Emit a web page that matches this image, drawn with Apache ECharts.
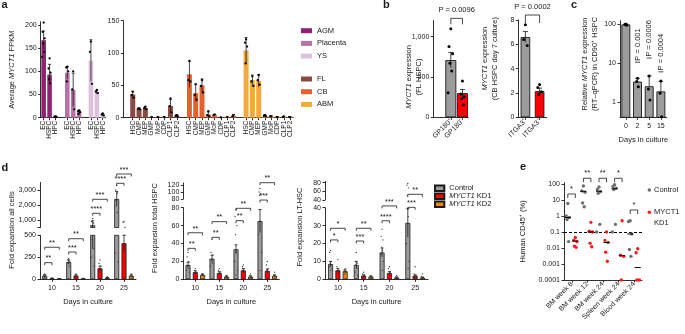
<!DOCTYPE html>
<html>
<head>
<meta charset="utf-8">
<title>MYCT1 figure</title>
<script src="https://cdn.jsdelivr.net/npm/echarts@6/dist/echarts.min.js"></script>
<style>
  html, body { margin: 0; padding: 0; background: #fff; }
  #fig { width: 685px; height: 334px; }
</style>
</head>
<body>
<div id="fig"></div>
<script>
const fig = echarts.init(document.getElementById('fig'));

const FONT = "'Liberation Sans', Arial, Helvetica, sans-serif";
const INK = '#1a1a1a';
const FS = 7;     // tick labels
const FT = 7.5;   // axis titles
const RICH = { i: { fontStyle: 'italic' } };

// ---------------- panel a : FPKM per site ----------------
const aLeftSites = ['AGM', 'Placenta', 'YS'];
const aLeftCells = ['EC', 'HSPC', 'HPC'];
const agmFpkm = [167, 93, 2];
const agmErr = [20, 22, 1];
const agmDots = [[205, 185, 171, 160, 142, 131], [128, 106, 97, 83, 74], [3, 2, 1.5]];
const placentaFpkm = [97, 60, 13];
const placentaErr = [13, 36, 3];
const placentaDots = [[110, 108, 100, 78], [100, 61, 18], [16, 14, 12, 8]];
const ysFpkm = [123, 55, 6];
const ysErr = [45, 4, 2];
const ysDots = [[164, 142, 73], [60, 56, 53], [9, 7, 5]];

const aRightSites = ['FL', 'CB', 'ABM'];
const aRightCells = ['HSC', 'CMP', 'MEP', 'GMP', 'MoP', 'CDP', 'CLP1', 'CLP2'];
const flFpkm = [36, 14, 15, 1, 1, 1, 18, 3];
const flErr = [5, 1.5, 2, 0.5, 0.5, 0.5, 10, 1.5];
const flDots = [[40, 35, 31], [14, 13.5, 13], [17, 15, 13], [1], [1], [1], [30, 18, 8], [4, 3, 2]];
const cbFpkm = [67, 38, 50, 5, 4, 0.5, 1, 3];
const cbErr = [20, 13, 10, 4, 1, 0.3, 0.5, 2];
const cbDots = [[88, 58, 56], [52, 35, 28], [58, 49, 39], [10, 4, 2], [5, 4], [0.5], [1], [4, 2]];
const abmFpkm = [104, 58, 57, 3, 2, 1, 1.5, 1];
const abmErr = [20, 8, 9, 1.5, 1, 0.5, 0.5, 0.5];
const abmDots = [[121, 116, 110, 84], [64, 56, 49], [66, 58, 51], [4, 3, 2], [2, 2], [1, 1], [2, 1], [1, 1]];

// ---------------- panel b ----------------
const gpLabels = ['GP180\u207A', 'GP180\u207B'];
const gpMean = [710, 300];
const gpErr = [95, 45];
const gpPosDots = [1100, 880, 790, 670, 575, 305];
const gpNegDots = [450, 290, 255, 230, 155];
const itgLabels = ['ITGA3\u207A', 'ITGA3\u207B'];
const itgMean = [6.6, 2.15];
const itgErr = [0.45, 0.25];
const itgPosDots = [7.6, 6.4, 5.9];
const itgNegDots = [2.7, 2.45, 2.1, 1.9];

// ---------------- panel c ----------------
const cDays = ['0', '2', '5', '15'];
const cMean = [95, 3.3, 2.5, 1.85];
const cErrHi = [100, 4.1, 4.7, 3.4];
const cDots = [[100, 97, 93], [4.1, 3.4, 2.5], [4.7, 2.2, 1.15], [3.5, 1.7, 0.43]];
const cPValues = ['0.001', '0.0006', '0.0004'];

// ---------------- panel d ----------------
const dDays = ['10', '15', '20', '25'];
const dGroups = ['Control', 'MYCT1 KD1', 'MYCT1 KD2'];
const allCtrl = [40, 195, 650, 2400];
const allKd1 = [10, 40, 125, 410];
const allKd2 = [5, 8, 15, 40];
const allCtrlErr = [12, 25, 300, 500];
const allKd1Err = [3, 10, 25, 90];
const allKd2Err = [2, 2, 5, 12];
const allCtrlDots = [[60, 45, 38, 30, 25], [235, 220, 200, 180, 150], [1100, 900, 800, 450, 350, 250, 150], [3300, 3000, 2800, 2300, 1500, 300, 200]];
const allKd1Dots = [[15, 10, 8], [60, 50, 40, 30], [220, 180, 150, 120, 100, 80], [900, 850, 500, 400, 300, 250, 200]];
const allKd2Dots = [[6, 5, 4], [10, 8, 6], [30, 20, 10], [60, 40, 30]];

const hspcCtrl = [16, 23, 33.5, 65];
const hspcKd1 = [8, 7, 10, 9.5];
const hspcKd2 = [5, 3, 3, 4];
const hspcCtrlErr = [3, 4, 5, 13];
const hspcKd1Err = [1.5, 1.5, 2, 2];
const hspcKd2Err = [1, 0.8, 0.8, 1];
const hspcCtrlDots = [[30, 25, 20, 15, 12, 10, 8], [45, 30, 27, 22, 18, 15], [78, 70, 60, 50, 30, 20, 10, 5], [110, 100, 95, 90, 65, 50, 30, 10]];
const hspcKd1Dots = [[12, 10, 8, 6, 5], [12, 10, 8, 6, 4], [16, 14, 12, 10, 8, 5], [20, 16, 12, 10, 8, 5]];
const hspcKd2Dots = [[6, 5, 4], [4, 3, 2], [6, 4, 2], [8, 5, 3]];

const ltCtrl = [8.5, 8, 15, 31.5];
const ltKd1 = [5, 2, 3.5, 2];
const ltKd2 = [4.5, 1.5, 1, 1];
const ltCtrlErr = [1.5, 2, 2.5, 8];
const ltKd1Err = [1, 0.5, 0.8, 0.5];
const ltKd2Err = [0.8, 0.3, 0.3, 0.3];
const ltCtrlDots = [[16, 15, 10, 9, 8, 7, 6, 5], [15, 10, 9, 8, 6, 4, 2], [28, 24, 22, 18, 16, 14, 10, 5], [78, 74, 68, 50, 35, 20, 10, 6]];
const ltKd1Dots = [[11, 7, 5, 4, 3], [4, 3, 2, 1], [7, 6, 4, 3, 2], [7, 3, 2, 1]];
const ltKd2Dots = [[6, 5, 4, 3], [2, 1.5, 1], [2, 1, 0.5], [3, 1.5, 1]];

// ---------------- panel e ----------------
const eSites = ['BM week 8', 'BM week 12', 'BM week 24', 'Spleen week 24', 'Blood week 24'];
const eCtrl = [[6, 1, 0.8, 0.6, 0.025], [75, 37, 30, 6.5, 3.8], [65, 45, 33, 26, 0.3, 0.1], [90, 70, 55, 45, 0.3, 0.1], [0.5, 0.45, 0.075, 0.008, 0.003]];
const eKd1 = [[0.045, 0.03, 0.025, 0.013, 0.011], [0.4, 0.11, 0.1, 0.02, 0.012], [0.1, 0.03, 0.022, 0.0055, 0.0015], [0.5, 0.0035, 0.003, 0.0001], [0.009, 0.005, 0.0001, 0.0001]];
const eCtrlMedian = [0.8, 35, 35, 50, 0.075];
const eKd1Median = [0.027, 0.1, 0.022, 0.0033, 0.0006];

// ---------------- styles ----------------
const siteColor = { AGM: '#8E2371', Placenta: '#B673A7', YS: '#DCC1DC', FL: '#8A4A41', CB: '#E5612F', ABM: '#F4A83D' };
const GREY = '#9C9C9C', RED = '#FF0000', ORANGE = '#E8871E';
const dColors = [GREY, RED, ORANGE];
const STEP = 7.3, BW = 5;                       // bar pitch inside a day group
const dOffsets = [-STEP, 0, STEP];
const JIT = [0, -1, 1, -0.5, 0.5, -1.5, 1.5, 0.25, -0.25];

function merge(a, b) {
  const out = Object.assign({}, a);
  Object.keys(b).forEach(k => {
    const v = b[k];
    if (v && typeof v === 'object' && !Array.isArray(v) && out[k] && typeof out[k] === 'object' && !Array.isArray(out[k])) out[k] = merge(out[k], v);
    else out[k] = v;
  });
  return out;
}

const axisLine = { show: true, onZero: false, lineStyle: { color: INK, width: 0.9 } };
const tick = { show: true, length: 2.5, lineStyle: { color: INK, width: 0.9 } };
const label = { fontSize: FS, color: INK, fontFamily: FONT, margin: 4 };
const nameStyle = { fontSize: FT, color: INK, fontFamily: FONT, lineHeight: 9.5, rich: RICH };
const comma = v => Number(v).toLocaleString('en-US');
const logFmt = v => String(Number(Number(v).toPrecision(3)));

function yValue(grid, min, max, labels, ticks, extra) {
  return merge({
    type: 'value', gridIndex: grid, min: min, max: max,
    axisLine: axisLine, splitLine: { show: false },
    axisTick: merge(tick, { customValues: ticks || labels }),
    axisLabel: merge(label, { customValues: labels, formatter: comma }),
    nameLocation: 'middle', nameRotate: 90, nameMoveOverlap: false, nameTextStyle: nameStyle
  }, extra || {});
}
function yLog(grid, min, max, extra) {
  return merge({
    type: 'log', logBase: 10, gridIndex: grid, min: min, max: max,
    axisLine: axisLine, splitLine: { show: false }, minorTick: { show: false },
    axisTick: tick,
    axisLabel: merge(label, { formatter: logFmt }),
    nameLocation: 'middle', nameRotate: 90, nameMoveOverlap: false, nameTextStyle: nameStyle
  }, extra || {});
}
function xCat(grid, data, extra) {
  return merge({
    type: 'category', gridIndex: grid, data: data,
    axisLine: axisLine, splitLine: { show: false },
    axisTick: merge(tick, { alignWithLabel: true, interval: (i, v) => v !== '' }),
    axisLabel: merge(label, { interval: 0 }),
    nameLocation: 'middle', nameMoveOverlap: false, nameTextStyle: nameStyle
  }, extra || {});
}
function xHidden(grid, data) {
  return { type: 'category', gridIndex: grid, data: data, show: false };
}

// ---------------- custom drawing helpers ----------------
function errSeries(grid, items, offset, cap) {
  return {
    type: 'custom', xAxisIndex: grid, yAxisIndex: grid, silent: true, z: 4, data: items,
    renderItem: function (params, api) {
      const cs = params.coordSys;
      const lo = api.coord([api.value(0), api.value(1)]);
      const hi = api.coord([api.value(0), api.value(2)]);
      const top = cs.y, bot = cs.y + cs.height;
      const y1 = Math.min(Math.max(lo[1], top), bot);
      const y2 = Math.min(Math.max(hi[1], top), bot);
      if (Math.abs(y1 - y2) < 0.2) return null;
      const x = lo[0] + offset;
      const st = { stroke: INK, lineWidth: 0.8 };
      const kids = [{ type: 'line', shape: { x1: x, y1: y1, x2: x, y2: y2 }, style: st }];
      if (hi[1] >= top - 0.1 && hi[1] <= bot) kids.push({ type: 'line', shape: { x1: x - cap, y1: hi[1], x2: x + cap, y2: hi[1] }, style: st });
      return { type: 'group', children: kids };
    }
  };
}
function dotSeries(grid, items, offset, color, r, spread, name) {
  return {
    name: name, type: 'custom', xAxisIndex: grid, yAxisIndex: grid, silent: true, z: 5, data: items,
    itemStyle: { color: color },
    renderItem: function (params, api) {
      const cs = params.coordSys;
      const p = api.coord([api.value(0), api.value(1)]);
      if (p[1] < cs.y - 0.6 || p[1] > cs.y + cs.height + 0.6) return null;
      const dx = JIT[api.value(2) % JIT.length] * spread;
      return { type: 'circle', shape: { cx: p[0] + offset + dx, cy: p[1], r: r }, style: { fill: color } };
    }
  };
}
// items: [cat1, off1, cat2, off2, level, text]
function bracketSeries(grid, items, leg, gap, fs) {
  return {
    type: 'custom', xAxisIndex: grid, yAxisIndex: grid, silent: true, z: 6,
    data: items.map(b => [b[0], b[4]]),
    renderItem: function (params, api) {
      const b = items[params.dataIndex];
      const p1 = api.coord([b[0], b[4]]), p2 = api.coord([b[2], b[4]]);
      const x1 = p1[0] + b[1], x2 = p2[0] + b[3], y = p1[1];
      return {
        type: 'group', children: [
          { type: 'polyline', shape: { points: [[x1, y + leg], [x1, y], [x2, y], [x2, y + leg]] }, style: { stroke: INK, lineWidth: 0.8, fill: null } },
          { type: 'text', x: (x1 + x2) / 2, y: y - gap, style: { text: b[5], fontSize: fs, fontFamily: FONT, fill: INK, align: 'center', verticalAlign: 'bottom', rich: RICH } }
        ]
      };
    }
  };
}

const series = [];

// ---------------- panel a ----------------
function addSite(grid, site, nCat, mean, err, dots, slot, barW, stack) {
  const bars = new Array(nCat).fill('-');
  mean.forEach((m, c) => { bars[slot(c)] = m; });
  series.push({ name: site, type: 'bar', xAxisIndex: grid, yAxisIndex: grid, stack: stack, barWidth: barW, itemStyle: { color: siteColor[site] }, data: bars });
  series.push(errSeries(grid, mean.map((m, c) => [slot(c), m - err[c], m + err[c]]), 0, 1.5));
  const pts = [];
  dots.forEach((arr, c) => arr.forEach((v, k) => pts.push([slot(c), v, k])));
  series.push(dotSeries(grid, pts, 0, '#000', 1.15, 1));
}
const aLeftCats = [];
aLeftSites.forEach((s, si) => { if (si) aLeftCats.push(''); aLeftCells.forEach(c => aLeftCats.push(c)); });
const aLeftData = [[agmFpkm, agmErr, agmDots], [placentaFpkm, placentaErr, placentaDots], [ysFpkm, ysErr, ysDots]];
aLeftSites.forEach((site, si) => {
  const d = aLeftData[si];
  addSite(0, site, aLeftCats.length, d[0], d[1], d[2], c => si * (aLeftCells.length + 1) + c, 4.6, 'aL');
});
const aRightCats = [''];
aRightSites.forEach((s, si) => { if (si) aRightCats.push(''); aRightCells.forEach(c => aRightCats.push(c)); });
const aRightData = [[flFpkm, flErr, flDots], [cbFpkm, cbErr, cbDots], [abmFpkm, abmErr, abmDots]];
aRightSites.forEach((site, si) => {
  const d = aRightData[si];
  addSite(1, site, aRightCats.length, d[0], d[1], d[2], c => 1 + si * (aRightCells.length + 1) + c, 5, 'aR');
});

// ---------------- panel b ----------------
function addPair(grid, first, mean, err, posDots, negDots, barW, pText) {
  const data = [];
  for (let i = 0; i < first; i++) data.push('-');
  data.push({ value: mean[0], itemStyle: { color: GREY } }, { value: mean[1], itemStyle: { color: RED } });
  series.push({ type: 'bar', xAxisIndex: grid, yAxisIndex: grid, barWidth: barW, itemStyle: { borderColor: INK, borderWidth: 0.9 }, data: data });
  series.push(errSeries(grid, mean.map((m, i) => [first + i, m - err[i], m + err[i]]), 0, 2.5));
  series.push(dotSeries(grid, posDots.map((v, k) => [first, v, k]).concat(negDots.map((v, k) => [first + 1, v, k])), 0, '#000', 1.5, 1.8));
  series.push(bracketSeries(grid, [[first, 0, first + 1, 0, pText.level, '{i|P} = ' + pText.value]], pText.leg, 4, FT));
}
addPair(2, 1, gpMean, gpErr, gpPosDots, gpNegDots, 11, { value: '0.0096', level: 1228, leg: 6 });
addPair(3, 0, itgMean, itgErr, itgPosDots, itgNegDots, 9.6, { value: '0.0002', level: 8.41, leg: 8 });

// ---------------- panel c ----------------
series.push({
  type: 'custom', xAxisIndex: 4, yAxisIndex: 4, silent: true, z: 3,
  data: cMean.map((m, i) => [i, m]),
  renderItem: function (params, api) {
    const cs = params.coordSys;
    const p = api.coord([api.value(0), api.value(1)]);
    const w = 8;
    return { type: 'rect', shape: { x: p[0] - w / 2, y: p[1], width: w, height: cs.y + cs.height - p[1] }, style: { fill: GREY, stroke: INK, lineWidth: 0.9 } };
  }
});
series.push(errSeries(4, cMean.map((m, i) => [i, m, cErrHi[i]]), 0, 2.2));
series.push(dotSeries(4, [].concat.apply([], cDots.map((arr, i) => arr.map((v, k) => [i, v, k]))), 0, '#000', 1.5, 0.8));
const cPLevels = [10.6, 13.5, 6];
series.push({
  type: 'custom', xAxisIndex: 4, yAxisIndex: 4, silent: true, z: 6,
  data: cPValues.map((p, i) => [i + 1, cPLevels[i]]),
  renderItem: function (params, api) {
    const p = api.coord([api.value(0), api.value(1)]);
    return {
      type: 'group', children: [
        { type: 'line', shape: { x1: p[0] - 2.5, y1: p[1], x2: p[0] + 2.5, y2: p[1] }, style: { stroke: INK, lineWidth: 0.8 } },
        { type: 'text', x: p[0], y: p[1] - 1.5, rotation: Math.PI / 2, style: { text: '{i|P} = ' + cPValues[params.dataIndex], align: 'left', verticalAlign: 'middle', fontSize: FT, fontFamily: FONT, fill: INK, rich: RICH } }
      ]
    };
  }
});

// ---------------- panel d ----------------
const dPanels = [
  { lo: 5, hi: 6, means: [allCtrl, allKd1, allKd2], errs: [allCtrlErr, allKd1Err, allKd2Err], dots: [allCtrlDots, allKd1Dots, allKd2Dots] },
  { lo: 7, hi: 8, means: [hspcCtrl, hspcKd1, hspcKd2], errs: [hspcCtrlErr, hspcKd1Err, hspcKd2Err], dots: [hspcCtrlDots, hspcKd1Dots, hspcKd2Dots] },
  { lo: 9, hi: 10, means: [ltCtrl, ltKd1, ltKd2], errs: [ltCtrlErr, ltKd1Err, ltKd2Err], dots: [ltCtrlDots, ltKd1Dots, ltKd2Dots] }
];
// significance vs control: [day, group, level, stars, part]
const dBrackets = [
  [[0, 1, 189, '**', 'lo'], [0, 2, 364, '**', 'lo'], [1, 1, 310, '***', 'lo'], [1, 2, 461, '**', 'lo'],
   [2, 1, 1447, '****', 'hi'], [2, 2, 2380, '***', 'hi'], [3, 1, 3447, '****', 'hi'], [3, 2, 4067, '***', 'hi']],
  [[0, 1, 34.6, '**', 'lo'], [0, 2, 52, '**', 'lo'], [1, 1, 46.9, '**', 'lo'], [1, 2, 64.4, '**', 'lo'],
   [2, 1, 65.5, '**', 'lo'], [2, 2, 79.3, '**', 'lo'], [3, 1, 77, '***', 'hi'], [3, 2, 126.6, '**', 'hi']],
  [[0, 1, 22, '*', 'lo'], [0, 2, 28.5, '*', 'lo'], [1, 1, 21.4, '***', 'lo'], [1, 2, 28.5, '**', 'lo'],
   [2, 1, 32.7, '****', 'lo'], [2, 2, 41, '***', 'lo'], [3, 1, 40.2, '***', 'lo'], [3, 2, 53.1, '**', 'hi']]
];
dPanels.forEach((p, pi) => {
  [p.lo, p.hi].forEach(grid => {
    dGroups.forEach((g, gi) => {
      series.push({
        name: g, type: 'bar', xAxisIndex: grid, yAxisIndex: grid, barWidth: BW, barGap: ((STEP - BW) / BW * 100) + '%',
        itemStyle: { color: dColors[gi], borderColor: INK, borderWidth: 0.8 }, data: p.means[gi]
      });
      series.push(errSeries(grid, p.means[gi].map((m, i) => [i, m - p.errs[gi][i], m + p.errs[gi][i]]), dOffsets[gi], 1.5));
      const pts = [];
      p.dots[gi].forEach((arr, i) => arr.forEach((v, k) => pts.push([i, v, k])));
      series.push(dotSeries(grid, pts, dOffsets[gi], '#333', 0.65, 0.9));
    });
  });
  ['lo', 'hi'].forEach(part => {
    const items = dBrackets[pi].filter(b => b[4] === part).map(b => [b[0], dOffsets[0], b[0], dOffsets[b[1]], b[2], b[3]]);
    if (items.length) series.push(bracketSeries(part === 'lo' ? p.lo : p.hi, items, 2.5, 0.3, FT));
  });
});

// ---------------- panel e ----------------
const eOff = [-4, 3.5];
[[eCtrl, '#6E6E6E', 'eCtrl'], [eKd1, '#FF1A1A', 'eKd1']].forEach((s, si) => {
  const pts = [];
  s[0].forEach((arr, i) => arr.forEach((v, k) => pts.push([i, v, k])));
  series.push(dotSeries(11, pts, eOff[si], s[1], 1.7, 1.6, s[2]));
});
[eCtrlMedian, eKd1Median].forEach((med, si) => {
  series.push({
    type: 'custom', xAxisIndex: 11, yAxisIndex: 11, silent: true, z: 6,
    data: med.map((m, i) => [i, m]),
    renderItem: function (params, api) {
      const p = api.coord([api.value(0), api.value(1)]);
      const x = p[0] + eOff[si];
      return { type: 'line', shape: { x1: x - 3, y1: p[1], x2: x + 3, y2: p[1] }, style: { stroke: '#000', lineWidth: 1 } };
    },
    markLine: si ? undefined : {
      silent: true, symbol: 'none', label: { show: false },
      lineStyle: { color: '#000', width: 1, type: [3, 2] }, data: [{ yAxis: 0.1 }]
    }
  });
});
const eBrackets = [[0, 23.7, '*'], [1, 227, '**'], [2, 227, '**'], [3, 227, '*'], [4, 2.37, '*']];
series.push(bracketSeries(11, eBrackets.map(b => [b[0], eOff[0], b[0], eOff[1], b[1], b[2]]), 4, 1, FT));

// ---------------- layout ----------------
const grids = [
  { left: 40.7, top: 21.7, width: 65, height: 96 },      // a sites
  { left: 123.3, top: 20.7, width: 170, height: 97 },    // a populations
  { left: 433.3, top: 20.6, width: 35, height: 96.7 },   // b GP180
  { left: 518.3, top: 20, width: 28.4, height: 97.3 },   // b ITGA3
  { left: 620, top: 20.7, width: 46.7, height: 96.6 },   // c
  { left: 40, top: 235.3, width: 96, height: 44 },       // d all cells (low)
  { left: 40, top: 182.5, width: 96, height: 45 },       // d all cells (high)
  { left: 183.3, top: 207.7, width: 96, height: 71.6 },  // d HSPC (low)
  { left: 183.3, top: 182.9, width: 96, height: 16.1 },  // d HSPC (high)
  { left: 325, top: 207.7, width: 103, height: 71.6 },   // d LT-HSC (low)
  { left: 325, top: 181.3, width: 103, height: 18.7 },   // d LT-HSC (high)
  { left: 564, top: 182.7, width: 78, height: 97.3 }     // e
];

const rot90 = { axisLabel: { rotate: 90, margin: 3, fontSize: 6.5 } };
const rot45 = { axisLabel: { rotate: 45, margin: 3 } };
const days = { name: 'Days in culture', nameGap: 18, axisLabel: { margin: 5 } };

const xAxis = [
  xCat(0, aLeftCats, rot90),
  xCat(1, aRightCats, rot90),
  xCat(2, [''].concat(gpLabels), rot45),
  xCat(3, itgLabels, rot45),
  xCat(4, cDays, days),
  xCat(5, dDays, days), xHidden(6, dDays),
  xCat(7, dDays, days), xHidden(8, dDays),
  xCat(9, dDays, days), xHidden(10, dDays),
  xCat(11, eSites, rot45)
];
const yAxis = [
  yValue(0, 0, 206.9, [0, 50, 100, 150, 200], null, { name: 'Average {i|MYCT1} FPKM', nameGap: 24 }),
  yValue(1, 0, 150, [0, 50, 100, 150]),
  yValue(2, 0, 1200, [0, 500, 1000], null, { name: '{i|MYCT1} expression\n(FL HSPC)', nameGap: 10, nameTextStyle: { padding: [0, 16, 0, 0] } }),
  yValue(3, 0, 8, [0, 2, 4, 6, 8], null, { name: '{i|MYCT1} expression\n(CB HSPC day 7 culture)', nameGap: 19, nameTextStyle: { padding: [0, 0, 0, 20] } }),
  yLog(4, 0.414, 121.4, { name: 'Relative {i|MYCT1} expression\n(RT\u2013qPCR) in CD90\u207A HSPC', nameGap: 20.5, nameTextStyle: { padding: [0, 0, 0, 10] }, axisLabel: { showMinLabel: false, showMaxLabel: false } }),
  yValue(5, 0, 500, [0, 250, 500]),
  yValue(6, 500, 3500, [1000, 2000, 3000], [500, 1000, 2000, 3000]),
  yValue(7, 0, 80, [0, 20, 40, 60, 80]),
  yValue(8, 80, 126, [80, 100, 120]),
  yValue(9, 0, 40, [0, 10, 20, 30, 40]),
  yValue(10, 40, 83, [40, 60, 80]),
  yLog(11, 0.0001, 120, { name: 'Human CD45\u207A (%)', nameGap: 36, axisLabel: { showMaxLabel: false } })
];

const legendBase = {
  orient: 'vertical', padding: 0, icon: 'rect', selectedMode: false,
  textStyle: { fontSize: FT, fontFamily: FONT, color: INK, lineHeight: 9, rich: RICH }
};
const legend = [
  merge(legendBase, { data: aLeftSites, left: 301, top: 26.2, itemWidth: 11, itemHeight: 5, itemGap: 3.7 }),
  merge(legendBase, { data: aRightSites, left: 301, top: 74.5, itemWidth: 11, itemHeight: 5, itemGap: 3.7 }),
  merge(legendBase, {
    data: dGroups, left: 434, top: 184.3, itemWidth: 9.3, itemHeight: 5.5, itemGap: 0,
    textStyle: { lineHeight: 8 },
    formatter: n => n.replace('MYCT1', '{i|MYCT1}')
  })
];

function txt(text, x, y, style, extra) {
  return Object.assign({ type: 'text', x: x, y: y, silent: true, style: Object.assign({ text: text, fontSize: FT, fontFamily: FONT, fill: INK, rich: RICH }, style || {}) }, extra || {});
}
const letter = { fontSize: 11, fontWeight: 'bold', verticalAlign: 'middle' };
const vTitle = { align: 'center', verticalAlign: 'middle' };
const graphic = [
  txt('a', 1.5, 4.5, letter), txt('b', 383, 4.5, letter), txt('c', 571, 5, letter),
  txt('d', 1.5, 167.5, letter), txt('e', 520, 166.5, letter),
  txt('Fold expansion all cells', 11.7, 230, vTitle, { rotation: Math.PI / 2 }),
  txt('Fold expansion total HSPC', 155, 228, vTitle, { rotation: Math.PI / 2 }),
  txt('Fold expansion LT-HSC', 300, 227, vTitle, { rotation: Math.PI / 2 }),
  { type: 'circle', silent: true, shape: { cx: 649.3, cy: 190, r: 1.7 }, style: { fill: '#6E6E6E' } },
  txt('Control', 654, 190, { verticalAlign: 'middle' }),
  { type: 'circle', silent: true, shape: { cx: 649.3, cy: 212.3, r: 1.7 }, style: { fill: '#FF1A1A' } },
  txt('{i|MYCT1}', 654, 212.3, { verticalAlign: 'middle' }),
  txt('KD1', 654, 222.7, { verticalAlign: 'middle' })
];

fig.setOption({
  animation: false,
  backgroundColor: '#fff',
  textStyle: { fontFamily: FONT },
  grid: grids,
  xAxis: xAxis,
  yAxis: yAxis,
  legend: legend,
  graphic: graphic,
  series: series
});
</script>
</body>
</html>
